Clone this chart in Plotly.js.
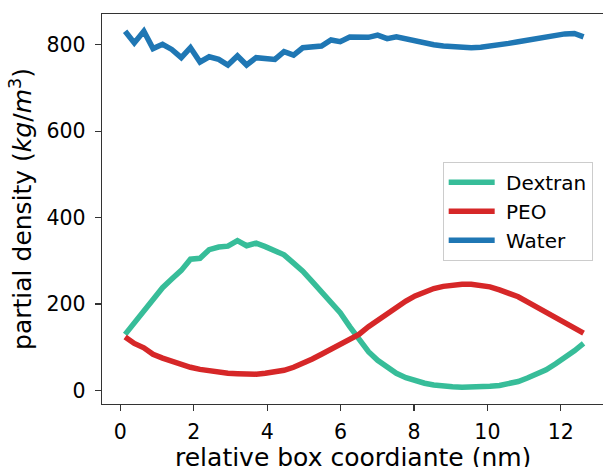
<!DOCTYPE html>
<html>
<head>
<meta charset="utf-8">
<script src="https://cdn.plot.ly/plotly-3.0.1.min.js"></script>
<style>html,body{margin:0;padding:0;background:#fff;}#chart{width:603px;height:467px;}</style>
</head>
<body>
<div id="chart"></div>
<script>
const coord = [0.13,0.38,0.64,0.89,1.15,1.40,1.66,1.91,2.17,2.42,2.68,2.93,3.19,3.44,3.70,3.95,4.21,4.46,4.72,4.97,
  5.23,5.48,5.74,5.99,6.25,6.50,6.76,7.01,7.27,7.52,7.78,8.03,8.29,8.54,8.80,9.05,9.31,9.56,9.82,10.07,
  10.33,10.58,10.84,11.09,11.35,11.60,11.86,12.11,12.37,12.62];
const dextran = [130,157,187,210,238,258,278,304,306,326,332,334,347,335,341,333,324,314,295,276,
  252,229,206,180,148,118,90,70,53,40,30,23,17,13,10,9,8,8,9,10,
  12,16,21,29,38,48,62,76,92,109];
const peo = [124,109,99,84,75,67,59,54,49,45,42,40,39,38,38,40,43,47,54,62,
  73,84,96,105,116,130,148,163,180,195,207,219,228,236,241,245,246,246,244,240,
  233,226,217,205,193,180,168,155,143,133];
const water = [831,804,831,791,801,789,770,793,760,772,766,753,774,753,770,768,766,784,776,793,
  795,797,811,807,818,817,817,822,814,818,813,809,805,800,797,795,794,793,794,796,
  799,803,807,811,815,820,823,825,826,818];
const names = ["Dextran","PEO","Water"];
const colors = ["#37bd99","#d62728","#1f77b4"];
const series = [dextran, peo, water];
const xTicks = [0,2,4,6,8,10,12];
const yTicks = [0,200,400,600,800];
const xTitle = "relative box coordiante (nm)";
const yTitle = "partial density (<i>kg</i>/<i>m</i><sup>3</sup>)";

const traces = series.map((s,i)=>({
  x: coord, y: s, type: "scatter", mode: "lines", name: "\u00a0" + names[i],
  line: {color: colors[i], width: 5.5}
}));

const font = {family: "DejaVu Sans, sans-serif", color: "#000"};
const layout = {
  width: 603, height: 467,
  margin: {l: 102, r: 0, t: 14, b: 63, pad: 0},
  paper_bgcolor: "#fff", plot_bgcolor: "#fff",
  font: Object.assign({size: 20}, font),
  showlegend: true,
  legend: {x: 0.68, y: 0.621, xanchor: "left", yanchor: "top",
    bgcolor: "rgba(255,255,255,0.8)", bordercolor: "#cccccc", borderwidth: 1,
    font: Object.assign({size: 20}, font), itemwidth: 46, tracegroupgap: 0},
  xaxis: {range: [-0.5, 13.15], tickvals: xTicks, ticktext: xTicks.map(String),
    ticks: "outside", ticklen: 6, tickwidth: 1.3, tickcolor: "#333", ticklabelstandoff: 3,
    showline: true, linecolor: "#333", linewidth: 1.3, mirror: true,
    showgrid: false, zeroline: false, automargin: false,
    tickfont: Object.assign({size: 20.5}, font)},
  yaxis: {range: [-31, 871], tickvals: yTicks, ticktext: yTicks.map(String),
    ticks: "outside", ticklen: 6, tickwidth: 1.3, tickcolor: "#333", ticklabelstandoff: 5,
    showline: true, linecolor: "#333", linewidth: 1.3, mirror: false,
    showgrid: false, zeroline: false, automargin: false,
    tickfont: Object.assign({size: 20.5}, font),
    title: {text: yTitle, font: Object.assign({size: 25}, font), standoff: 7}},
  annotations: [{
    text: xTitle, xref: "paper", yref: "paper", x: 0.501, y: -0.136,
    xanchor: "center", yanchor: "middle", showarrow: false,
    font: Object.assign({size: 25}, font)
  }]
};
Plotly.newPlot("chart", traces, layout, {staticPlot: true, displayModeBar: false});
</script>
</body>
</html>
